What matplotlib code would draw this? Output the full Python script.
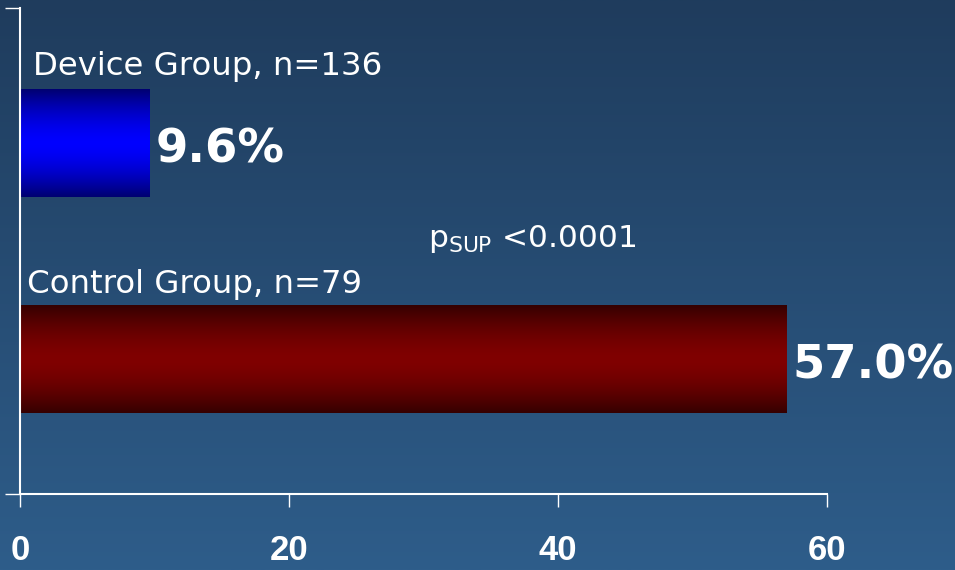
import matplotlib.pyplot as plt
import numpy as np

groups = ['Control Group, n=79', 'Device Group, n=136']
values = [57.0, 9.6]
ypos = [1.25, 3.25]
xticks = [0, 20, 40, 60]
p_text = r'p$_{\mathregular{SUP}}$ <0.0001'

fig = plt.figure(figsize=(9.55, 5.7), dpi=100)

# background gradient
bg = fig.add_axes([0, 0, 1, 1])
bg.set_axis_off()
top = np.array([0x1f, 0x3c, 0x5d]) / 255
bot = np.array([0x2e, 0x5d, 0x8a]) / 255
t = np.linspace(0, 1, 256)[:, None]
grad = top[None, :] * (1 - t) + bot[None, :] * t
bg.imshow(grad[:, None, :], aspect='auto', extent=[0, 1, 0, 1])
bg.set_xlim(0, 1)
bg.set_ylim(0, 1)

ax = fig.add_axes([20 / 955, 76 / 570, 807 / 955, 486 / 570])
ax.patch.set_visible(False)

bars = ax.barh(ypos, values, height=1.0, color='none', edgecolor='none')

def shade(edge, mid):
    s = np.abs(np.linspace(-1, 1, 200))
    s = s ** 1.6
    edge = np.array(edge) / 255
    mid = np.array(mid) / 255
    return mid[None, :] * (1 - s[:, None]) + edge[None, :] * s[:, None]

fills = [shade((0x35, 0x00, 0x00), (0x80, 0x00, 0x00)),
         shade((0x00, 0x00, 0x70), (0x00, 0x00, 0xff))]
for b, g in zip(bars, fills):
    x0, y0, w, h = b.get_x(), b.get_y(), b.get_width(), b.get_height()
    im = ax.imshow(g[:, None, :], aspect='auto', extent=[x0, x0 + w, y0, y0 + h],
                   zorder=2)
    im.set_clip_path(b)

for y, v in zip(ypos, values):
    ax.text(v + 0.45, y - 0.18, f'{v:.1f}%', color='white', fontsize=33.5,
            fontweight='bold', va='baseline', ha='left')

ax.text(0.97, 3.88, groups[1], color='white', fontsize=23.3, va='baseline')
ax.text(0.52, 1.86, groups[0], color='white', fontsize=23.3, va='baseline')
ax.text(30.3, 2.29, p_text, color='white', fontsize=22.5, va='baseline')

ax.set_xlim(0, 60)
ax.set_ylim(0, 4.5)
ax.set_xticks(xticks)
ax.set_xticklabels([str(x) for x in xticks], family='Liberation Sans',
                   fontweight='bold', fontsize=25, color='white')
ax.set_yticks([0, 4.5])
ax.set_yticklabels([])
ax.tick_params(axis='x', direction='out', length=9, width=1, color='white', pad=20)
ax.tick_params(axis='y', direction='out', length=11, width=1, color='white')
for s in ['top', 'right']:
    ax.spines[s].set_visible(False)
for s in ['left', 'bottom']:
    ax.spines[s].set_color('white')
    ax.spines[s].set_linewidth(1.5)

fig.savefig('out.png', dpi=100)
